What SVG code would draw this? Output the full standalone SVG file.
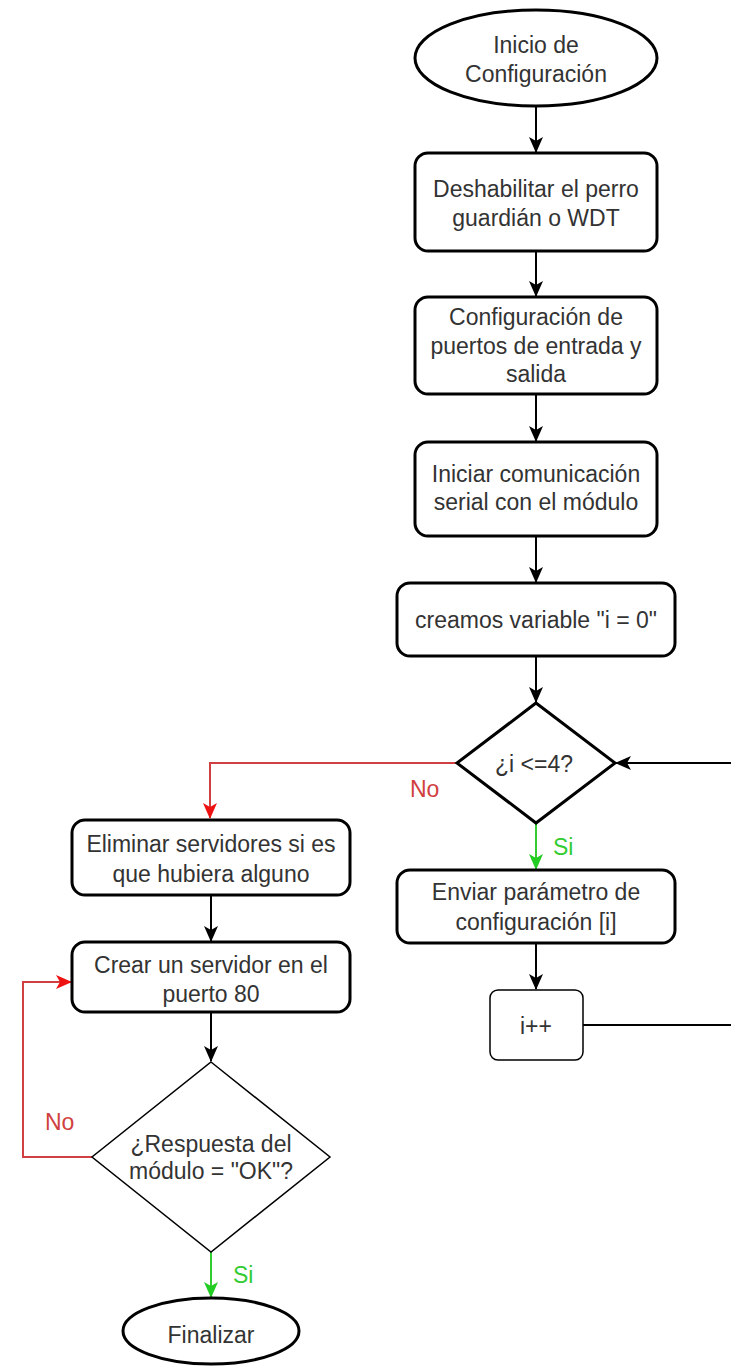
<svg xmlns="http://www.w3.org/2000/svg" width="731" height="1368" viewBox="0 0 731 1368">
  <style>
    .shape { fill: #ffffff; stroke: #000000; stroke-width: 3; }
    .thin { fill: #ffffff; stroke: #000000; stroke-width: 1.5; }
    .label { font-family: "Liberation Sans", Arial, sans-serif; font-size: 23px; fill: #333333; text-anchor: middle; }
    .edge { fill: none; stroke: #000000; stroke-width: 2; }
    .edge-no { fill: none; stroke: #d04040; stroke-width: 2; }
    .edge-si { fill: none; stroke: #33cc33; stroke-width: 2; }
    .tag-no { font-family: "Liberation Sans", Arial, sans-serif; font-size: 23px; fill: #d04040; }
    .tag-si { font-family: "Liberation Sans", Arial, sans-serif; font-size: 23px; fill: #33cc33; }
  </style>
  <defs>
    <marker id="arrow" markerUnits="userSpaceOnUse" markerWidth="16" markerHeight="16" viewBox="0 0 16 14" refX="15" refY="7" orient="auto">
      <path d="M0,0 L16,7 L0,14 L4,7 z" fill="#000000"/>
    </marker>
    <marker id="arrow-red" markerUnits="userSpaceOnUse" markerWidth="16" markerHeight="16" viewBox="0 0 16 14" refX="15" refY="7" orient="auto">
      <path d="M0,0 L16,7 L0,14 L4,7 z" fill="#ee1111"/>
    </marker>
    <marker id="arrow-green" markerUnits="userSpaceOnUse" markerWidth="16" markerHeight="16" viewBox="0 0 16 14" refX="15" refY="7" orient="auto">
      <path d="M0,0 L16,7 L0,14 L4,7 z" fill="#22cc22"/>
    </marker>
  </defs>

  <rect width="731" height="1368" fill="#ffffff"/>

  <!-- connectors -->
  <g id="connectors">
    <path class="edge" d="M536,106 V152" marker-end="url(#arrow)"/>
    <path class="edge" d="M536,251 V296" marker-end="url(#arrow)"/>
    <path class="edge" d="M536,394 V441" marker-end="url(#arrow)"/>
    <path class="edge" d="M536,536 V582" marker-end="url(#arrow)"/>
    <path class="edge" d="M536,656 V702" marker-end="url(#arrow)"/>
    <path class="edge-no" d="M457,763 H210 V818" marker-end="url(#arrow-red)"/>
    <path class="edge-si" d="M536,823 V869" marker-end="url(#arrow-green)"/>
    <path class="edge" d="M536,943 V989" marker-end="url(#arrow)"/>
    <path class="edge" d="M583,1025 H745 V763 H616" marker-end="url(#arrow)"/>
    <path class="edge" d="M211,895 V941" marker-end="url(#arrow)"/>
    <path class="edge" d="M211,1012 V1061" marker-end="url(#arrow)"/>
    <path class="edge-no" d="M92,1157 H23 V982 H71" marker-end="url(#arrow-red)"/>
    <path class="edge-si" d="M211,1252 V1297" marker-end="url(#arrow-green)"/>
    <text class="tag-no" x="410" y="797">No</text>
    <text class="tag-si" x="553" y="855">Si</text>
    <text class="tag-no" x="45" y="1130">No</text>
    <text class="tag-si" x="233" y="1283">Si</text>
  </g>

  <g id="inicio">
    <ellipse class="shape" cx="536" cy="58" rx="121" ry="48"/>
    <text class="label" x="536" y="53">Inicio de</text>
    <text class="label" x="536" y="82">Configuración</text>
  </g>

  <g id="deshabilitar-wdt">
    <rect class="shape" x="415" y="153" width="242" height="98" rx="13"/>
    <text class="label" x="536" y="197">Deshabilitar el perro</text>
    <text class="label" x="536" y="226">guardián o WDT</text>
  </g>

  <g id="config-puertos">
    <rect class="shape" x="415" y="297" width="242" height="97" rx="13"/>
    <text class="label" x="536" y="325">Configuración de</text>
    <text class="label" x="536" y="354">puertos de entrada y</text>
    <text class="label" x="536" y="382">salida</text>
  </g>

  <g id="iniciar-serial">
    <rect class="shape" x="415" y="442" width="242" height="94" rx="13"/>
    <text class="label" x="536" y="482">Iniciar comunicación</text>
    <text class="label" x="536" y="510">serial con el módulo</text>
  </g>

  <g id="variable-i">
    <rect class="shape" x="397" y="583" width="278" height="73" rx="13"/>
    <text class="label" x="536" y="628">creamos variable "i = 0"</text>
  </g>

  <g id="decision-i">
    <polygon class="shape" points="536,703 615,763 536,823 457,763"/>
    <text class="label" x="534" y="772">¿i &lt;=4?</text>
  </g>

  <g id="enviar-parametro">
    <rect class="shape" x="397" y="870" width="278" height="73" rx="13"/>
    <text class="label" x="536" y="900">Enviar parámetro de</text>
    <text class="label" x="536" y="930">configuración [i]</text>
  </g>

  <g id="incremento">
    <rect class="thin" x="490" y="990" width="93" height="70" rx="8"/>
    <text class="label" x="536" y="1034">i++</text>
  </g>

  <g id="eliminar-servidores">
    <rect class="shape" x="72" y="820" width="278" height="75" rx="13"/>
    <text class="label" x="211" y="852">Eliminar servidores si es</text>
    <text class="label" x="211" y="882">que hubiera alguno</text>
  </g>

  <g id="crear-servidor">
    <rect class="shape" x="72" y="942" width="278" height="70" rx="13"/>
    <text class="label" x="211" y="973">Crear un servidor en el</text>
    <text class="label" x="211" y="1002">puerto 80</text>
  </g>

  <g id="decision-respuesta">
    <polygon class="thin" points="211,1062 330,1157 211,1252 92,1157"/>
    <text class="label" x="211" y="1152">¿Respuesta del</text>
    <text class="label" x="211" y="1179">módulo = "OK"?</text>
  </g>

  <g id="finalizar">
    <ellipse class="shape" cx="211" cy="1331" rx="88" ry="33"/>
    <text class="label" x="211" y="1343">Finalizar</text>
  </g>
</svg>
